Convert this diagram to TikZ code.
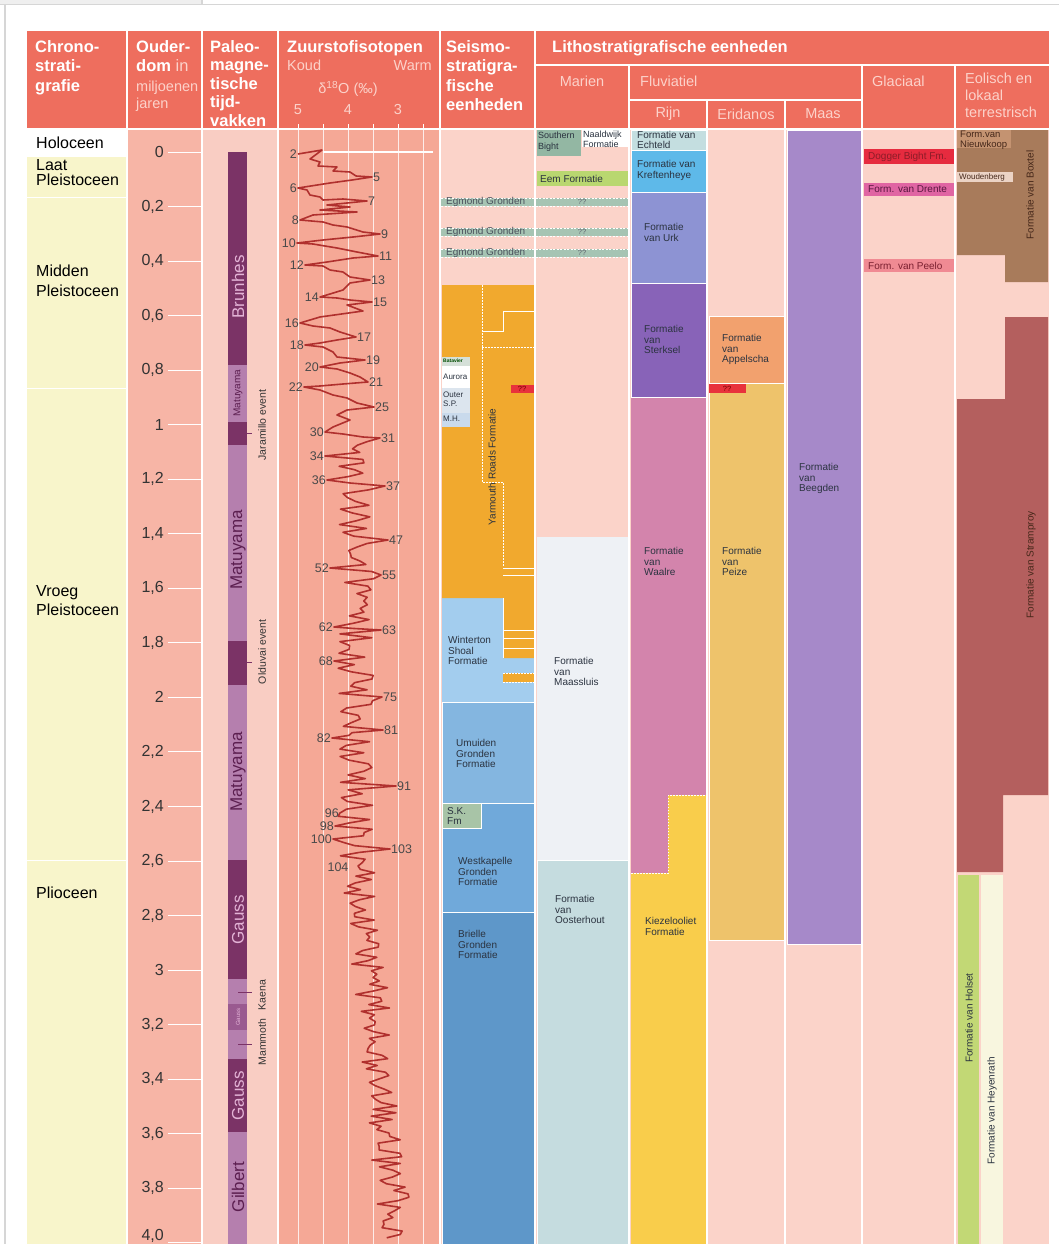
\documentclass[tikz,border=0pt]{standalone}
\usepackage{fontspec}
\setmainfont{Liberation Sans}
\definecolor{hdr}{HTML}{EE6E5E}
\definecolor{hdlt}{HTML}{FCD2CA}
\definecolor{chrono}{HTML}{F8F5CB}
\definecolor{oud}{HTML}{F7B5A6}
\definecolor{pal}{HTML}{F9CDC3}
\definecolor{iso}{HTML}{F5A896}
\definecolor{seis}{HTML}{FBD3C9}
\definecolor{magN}{HTML}{7B3366}
\definecolor{magM}{HTML}{9A5A90}
\definecolor{magR}{HTML}{B57FAE}
\definecolor{maglt}{HTML}{E3B3D6}
\definecolor{magdk}{HTML}{5C1F50}
\definecolor{curvec}{HTML}{B0302E}
\definecolor{mistxt}{HTML}{4A4A4A}
\definecolor{fmtxt}{HTML}{2B3340}
\definecolor{egm}{HTML}{A6C4B3}
\definecolor{batc}{HTML}{D5E0D8}
\definecolor{outc}{HTML}{DCE5EE}
\definecolor{mhc}{HTML}{C9DAEC}
\definecolor{yarm}{HTML}{F1A92E}
\definecolor{winter}{HTML}{A3CDEE}
\definecolor{umuid}{HTML}{84B6E0}
\definecolor{westk}{HTML}{70A9DA}
\definecolor{briel}{HTML}{5E97C9}
\definecolor{skfm}{HTML}{A8C4A7}
\definecolor{south}{HTML}{93B7A3}
\definecolor{eem}{HTML}{B9D770}
\definecolor{maassl}{HTML}{EEF1F5}
\definecolor{ooster}{HTML}{C5DCDF}
\definecolor{echt}{HTML}{C4DEE0}
\definecolor{kreft}{HTML}{5EB9E9}
\definecolor{urk}{HTML}{8D93D3}
\definecolor{sterk}{HTML}{8863B8}
\definecolor{waalre}{HTML}{D384AC}
\definecolor{kiezel}{HTML}{F9CD4B}
\definecolor{appel}{HTML}{F2A16E}
\definecolor{peize}{HTML}{EEC36B}
\definecolor{beeg}{HTML}{A689C9}
\definecolor{dogger}{HTML}{E62B3F}
\definecolor{drente}{HTML}{E065A3}
\definecolor{peelo}{HTML}{F08A93}
\definecolor{boxtel}{HTML}{A87B5B}
\definecolor{nieuwk}{HTML}{C49371}
\definecolor{woudc}{HTML}{EBD3C5}
\definecolor{stramp}{HTML}{B45F5E}
\definecolor{holset}{HTML}{C2D875}
\definecolor{heyen}{HTML}{F8F6DF}
\definecolor{redq}{HTML}{E8323C}
\definecolor{framec}{HTML}{D6D6D6}
\definecolor{dogtxt}{HTML}{8C1C28}
\definecolor{dretxt}{HTML}{5A1840}
\definecolor{peetxt}{HTML}{7A2030}
\definecolor{browntxt}{HTML}{46281A}
\begin{document}
\begin{tikzpicture}[x=1pt,y=-1pt,
 hb/.style={font=\bfseries\fontsize{16.5}{19.5}\selectfont, text=white, anchor=north west, inner sep=0pt, align=left},
 hl/.style={font=\fontsize{14.5}{17}\selectfont, text=hdlt, inner sep=0pt},
 ages/.style={font=\fontsize{16}{16}\selectfont, text=black!80, anchor=east, inner sep=0pt},
 chr/.style={font=\fontsize{16}{19.5}\selectfont, text=black, anchor=north west, inner sep=0pt, align=left},
 fm/.style={font=\fontsize{10}{10.7}\selectfont, text=fmtxt, anchor=north west, inner sep=0pt, align=left},
 fmr/.style={font=\fontsize{10}{10}\selectfont, text=fmtxt, inner sep=0pt, rotate=90},
 mis/.style={font=\fontsize{12.5}{12.5}\selectfont, text=mistxt, inner sep=1pt},
 misL/.style={mis, anchor=east},
 misR/.style={mis, anchor=west},
 magbig/.style={font=\fontsize{17}{17}\selectfont, rotate=90, inner sep=0pt},
 evt/.style={font=\fontsize{10.5}{10.5}\selectfont, rotate=90, text=black!80, inner sep=0pt},
 qq/.style={font=\fontsize{7.5}{7.5}\selectfont, inner sep=0pt},
 wl/.style={white, line width=1.2pt},
 blk/.style={draw=white, line width=0.8pt},
 curve/.style={draw=curvec, line width=1.6pt, line join=round}]
\useasboundingbox (0,0) rectangle (1059,1244);
\fill[white] (0,0) rectangle (1059,1244);
% frame
\fill[framec!40] (0,0) rectangle (202,4.5);
\draw[framec, line width=1.2pt] (0,4.5) -- (1059,4.5);
\draw[framec, line width=1.2pt] (202,0) -- (202,4.5);
\draw[framec, line width=1.2pt] (5,4.5) -- (5,1244);

% ---------- header ----------
\fill[hdr] (27,31) rectangle (1049,129);
\draw[wl] (127,31)--(127,129) (202,31)--(202,129) (278,31)--(278,129) (440,31)--(440,129) (535,31)--(535,129);
\draw[wl] (535,65)--(1049,65) (629,65)--(629,129) (862,65)--(862,129) (955,65)--(955,129);
\draw[wl] (629,100)--(862,100) (707,100)--(707,129) (785,100)--(785,129);
\foreach \x in {298,323,...,423} \draw[white, line width=0.9pt] (\x,124.5)--(\x,129);

\node[hb] (hChrono) at (35,40) {Chrono-\\strati-\\grafie};
\node[hb] (hOud) at (136,40) {Ouder-\\dom{\mdseries\color{hdlt}\ in}};
\node[hl, anchor=north west, align=left] (hOud2) at (136,81) {miljoenen\\jaren};
\node[hb, font=\bfseries\fontsize{16.5}{18.5}\selectfont] (hPal) at (210,40) {Paleo-\\magne-\\tische\\tijd-\\vakken};
\node[hb] (hIso) at (287,40) {Zuurstofisotopen};
\node[hl, anchor=north west] (hKoud) at (287,60) {Koud};
\node[hl, anchor=north east] (hWarm) at (432,60) {Warm};
\node[hl] (hDelta) at (348,89) {δ\textsuperscript{18}O (‰)};
\node[hl] (h5) at (298,110) {5};
\node[hl] (h4) at (348,110) {4};
\node[hl] (h3) at (398,110) {3};
\node[hb] (hSeis) at (446,40) {Seismo-\\stratigra-\\fische\\eenheden};
\node[hb] (hLitho) at (552,40) {Lithostratigrafische eenheden};
\node[hl] (hMar) at (582,81) {Marien};
\node[hl, anchor=west] (hFluv) at (640,81) {Fluviatiel};
\node[hl] (hRijn) at (668,114) {Rijn};
\node[hl] (hErid) at (746,114) {Eridanos};
\node[hl] (hMaas) at (823,114) {Maas};
\node[hl, anchor=west] (hGlac) at (872,81) {Glaciaal};
\node[hl, anchor=north west, align=left] (hEol) at (965,73) {Eolisch en\\lokaal\\terrestrisch};

% ---------- body backgrounds ----------
\fill[chrono] (27,129) rectangle (127,1244);
\fill[white] (27,129) rectangle (127,157);
\fill[oud] (127,129) rectangle (202,1244);
\fill[pal] (202,129) rectangle (278,1244);
\fill[iso] (278,129) rectangle (440,1244);
\fill[seis] (440,129) rectangle (1049,1244);
\draw[white, line width=1pt] (27,197)--(127,197) (27,388)--(127,388) (27,860)--(127,860);

% chrono labels
\node[chr] (cHol) at (36,137) {Holoceen};
\node[chr, font=\fontsize{16}{15}\selectfont] (cLaat) at (36,159) {Laat\\Pleistoceen};
\node[chr] (cMid) at (36,265) {Midden\\Pleistoceen};
\node[chr] (cVro) at (36,585) {Vroeg\\Pleistoceen};
\node[chr] (cPlio) at (36,887) {Plioceen};

% age axis
\foreach \i/\lab in {0/0,1/{0,2},2/{0,4},3/{0,6},4/{0,8},5/1,6/{1,2},7/{1,4},8/{1,6},9/{1,8},10/2,11/{2,2},12/{2,4},13/{2,6},14/{2,8},15/3,16/{3,2},17/{3,4},18/{3,6},19/{3,8}} {
  \draw[white, line width=1pt] (168,{152+54.54*\i}) -- (201,{152+54.54*\i});
  \node[ages] (age\i) at (164,{152+54.54*\i}) {\lab};
}
\draw[white, line width=1pt] (168,1242.8) -- (201,1242.8);
\node[ages] (age20) at (164,1236) {4,0};

% ---------- paleomagnetism ----------
\fill[magN] (228,152) rectangle (247,365);
\fill[magR] (228,365) rectangle (247,422);
\fill[magN] (228,422) rectangle (247,445);
\fill[magR] (228,445) rectangle (247,641);
\fill[magN] (228,641) rectangle (247,685);
\fill[magR] (228,685) rectangle (247,860);
\fill[magN] (228,860) rectangle (247,979);
\fill[magR] (228,979) rectangle (247,1004);
\fill[magM] (228,1004) rectangle (247,1030);
\fill[magR] (228,1030) rectangle (247,1059);
\fill[magN] (228,1059) rectangle (247,1132);
\fill[magR] (228,1132) rectangle (247,1244);
\draw[magN, line width=0.8pt] (238,433)--(252,433) (238,662)--(252,662) (238,992)--(252,992) (238,1044)--(252,1044);
\node[magbig, text=maglt] (pBrun) at (238,287) {Brunhes};
\node[magbig, text=magdk, font=\fontsize{10}{10}\selectfont] (pMat1) at (238,393) {Matuyama};
\node[magbig, text=magdk] (pMat2) at (238,550) {Matuyama};
\node[magbig, text=magdk] (pMat3) at (238,772) {Matuyama};
\node[magbig, text=maglt] (pGau1) at (238,920) {Gauss};
\node[magbig, text=maglt, font=\fontsize{6}{6}\selectfont] (pGau2) at (238,1017) {Gauss};
\node[magbig, text=maglt] (pGau3) at (238,1096) {Gauss};
\node[magbig, text=magdk] (pGil) at (238,1187) {Gilbert};
\node[evt] (eJar) at (262,425) {Jaramillo event};
\node[evt] (eOld) at (262,652) {Olduvai event};
\node[evt] (eKae) at (262,995) {Kaena};
\node[evt] (eMam) at (262,1042) {Mammoth};

% ---------- isotope grid ----------
\foreach \x in {298,323,...,423} \draw[white, opacity=0.8, line width=0.9pt] (\x,129)--(\x,1244);
\draw[white, line width=1.2pt] (323,152)--(433,152);

% ---------- seismo column ----------
\fill[winter] (442,598) rectangle (534,702);
\fill[yarm] (442,285) -- (534,285) -- (534,658) -- (503,658) -- (503,598) -- (442,598) -- cycle;
\fill[yarm] (503,673) rectangle (534,682);
\draw[white, line width=0.9pt, dash pattern=on 1.5pt off 1.5pt] (482,285)--(482,482)--(503,482)--(503,567) (482,347)--(534,347) (503,673)--(534,673) (503,682)--(534,682);
\draw[white, line width=1pt] (482,331)--(503,331)--(503,311)--(534,311);
\draw[white, line width=1pt] (503,568)--(534,568) (503,575)--(534,575) (503,630)--(534,630) (503,638)--(534,638) (503,648)--(534,648) (503,598)--(503,658);
\fill[batc] (442,357) rectangle (470,366);
\fill[white] (442,366) rectangle (470,388);
\fill[outc] (442,388) rectangle (470,413);
\fill[mhc] (442,413) rectangle (470,427);
\node[fm, font=\bfseries\fontsize{5}{5}\selectfont, text=green!30!black] (sBat) at (443,359) {Batavier};
\node[fm, font=\fontsize{8}{9}\selectfont] (sAur) at (443,374) {Aurora};
\node[fm, font=\fontsize{8}{8.5}\selectfont] (sOut) at (443,392) {Outer\\S.P.};
\node[fm, font=\fontsize{8}{8.5}\selectfont] (sMH) at (443,416) {M.H.};
\fill[redq] (511,385) rectangle (534,393);
\node[qq, text=red!45!black] (qY) at (522,389) {??};
\node[fmr] (sYar) at (492,467) {Yarmouth Roads Formatie};
\node[fm] (sWin) at (448,636) {Winterton\\Shoal\\Formatie};
\fill[umuid, blk] (442,702) rectangle (534,803);
\node[fm] (sUmu) at (456,739) {Umuiden\\Gronden\\Formatie};
\fill[westk, blk] (442,803) rectangle (534,912);
\fill[skfm, blk] (442,803) rectangle (481,828);
\node[fm] (sSK) at (447,807) {S.K.\\Fm};
\node[fm] (sWes) at (458,857) {Westkapelle\\Gronden\\Formatie};
\fill[briel, blk] (442,912) rectangle (534,1246);
\node[fm] (sBri) at (458,930) {Brielle\\Gronden\\Formatie};

% Egmond Gronden bands
\foreach \y/\nm in {202/egA,232/egB,253/egC} {
  \fill[egm] (441,{\y-4}) rectangle (628,{\y+4});
  \draw[white, line width=0.8pt, dash pattern=on 2pt off 1.5pt] (441,{\y-4}) -- (628,{\y-4}) (441,{\y+4}) -- (628,{\y+4});
  \node[fm, anchor=west, text=fmtxt!85] (\nm) at (446,\y) {Egmond Gronden};
  \node[qq, text=fmtxt!75] (q\nm) at (582,\y) {??};
}

% ---------- marien ----------
\fill[south] (537,130) rectangle (581,156);
\fill[white] (582,130) rectangle (628,147);
\node[fm, font=\fontsize{9}{11}\selectfont] (mSou) at (538,131.5) {Southern\\Bight};
\node[fm, font=\fontsize{9}{10}\selectfont] (mNaa) at (583,130.5) {Naaldwijk\\Formatie};
\fill[eem] (537,171) rectangle (628,186);
\node[fm, anchor=west] (mEem) at (540,178.5) {Eem Formatie};
\fill[maassl] (537,537) rectangle (628,860);
\node[fm] (mMaa) at (554,657) {Formatie\\van\\Maassluis};
\fill[ooster, blk] (537,860) rectangle (628,1246);
\node[fm] (mOos) at (555,895) {Formatie\\van\\Oosterhout};

% ---------- Rijn ----------
\fill[echt, blk] (631,130) rectangle (706,150);
\node[fm, font=\fontsize{10}{10.3}\selectfont] (rEch) at (637,131) {Formatie van\\Echteld};
\fill[kreft, blk] (631,150) rectangle (706,192);
\node[fm] (rKre) at (637,160) {Formatie van\\Kreftenheye};
\fill[urk, blk] (631,192) rectangle (706,283);
\node[fm] (rUrk) at (644,223) {Formatie\\van Urk};
\fill[sterk, blk] (631,283) rectangle (706,397);
\node[fm] (rSte) at (644,325) {Formatie\\van\\Sterksel};
\fill[waalre] (631,397) -- (706,397) -- (706,795) -- (668,795) -- (668,873) -- (631,873) -- cycle;
\fill[kiezel] (668,795) -- (706,795) -- (706,1246) -- (631,1246) -- (631,873) -- (668,873) -- cycle;
\draw[white, line width=0.9pt, dash pattern=on 1.5pt off 1.5pt] (631,873)--(668,873)--(668,795)--(706,795);
\draw[white, line width=0.8pt] (631,397)--(706,397);
\node[fm] (rWaa) at (644,547) {Formatie\\van\\Waalre};
\node[fm] (rKie) at (645,917) {Kiezelooliet\\Formatie};

% ---------- Eridanos ----------
\fill[appel, blk] (709,316) rectangle (784,383);
\node[fm] (eApp) at (722,334) {Formatie\\van\\Appelscha};
\fill[peize, blk] (709,383) rectangle (784,940);
\fill[redq] (709,384) rectangle (746,393);
\node[qq, text=red!45!black] (qE) at (727,388.5) {??};
\node[fm] (ePei) at (722,547) {Formatie\\van\\Peize};

% ---------- Maas ----------
\fill[beeg, blk] (787,130) rectangle (861,944);
\node[fm] (aBee) at (799,463) {Formatie\\van\\Beegden};

% ---------- Glaciaal ----------
\fill[dogger] (864,149) rectangle (954,164);
\node[fm, anchor=west, text=dogtxt] (gDog) at (868,156.5) {Dogger Bight Fm.};
\fill[drente] (864,183) rectangle (954,196);
\node[fm, anchor=west, text=dretxt] (gDre) at (868,189.5) {Form. van Drente};
\fill[peelo] (864,259) rectangle (954,272);
\node[fm, anchor=west, text=peetxt] (gPee) at (868,265.5) {Form. van Peelo};

% ---------- Eolisch ----------
\fill[boxtel] (957,130) -- (1048,130) -- (1048,282) -- (1005,282) -- (1005,255) -- (957,255) -- cycle;
\fill[nieuwk] (957,130) rectangle (1011,148);
\node[fm, font=\fontsize{9.5}{9.8}\selectfont, text=browntxt] (oNie) at (960,130.5) {Form.van\\Nieuwkoop};
\fill[woudc] (957,172) rectangle (1013,182);
\node[fm, anchor=west, font=\fontsize{8}{8}\selectfont, text=browntxt] (oWou) at (959,177) {Woudenberg};
\node[fmr, text=browntxt] (oBox) at (1030,195) {Formatie van Boxtel};
\fill[stramp] (1005,317) -- (1048,317) -- (1048,795) -- (1003,795) -- (1003,872) -- (957,872) -- (957,399) -- (1005,399) -- cycle;
\node[fmr, text=browntxt] (oStr) at (1031,565) {Formatie van Stramproy};
\fill[holset] (958,875) rectangle (979,1246);
\fill[heyen] (981,875) rectangle (1003,1246);
\node[fmr] (oHol) at (969,1018) {Formatie van Holset};
\node[fmr] (oHey) at (992,1111) {Formatie van Heyenrath};

% ---------- column separators ----------
\draw[white, line width=1.2pt] (27,129)--(1049,129);
\foreach \x in {127,202,278,440,535,629,707,785,862,955}
  \draw[white, line width=1.2pt] (\x,129)--(\x,1244);

% ---------- oxygen isotope curve ----------
\pgfmathsetseed{4242}
\draw[curve] (298,154) -- (322,150) -- (310,159) -- (320,162) -- (318,166) -- (337,167) -- (333,171) -- (350,172) -- (356,176) -- (372,177)
 -- (352,180) -- (330,183) -- (298,188) -- (307,190) -- (310,195) -- (320,197) -- (323,200) -- (343,199) -- (367,201) -- (327,205)
 -- (350,207) -- (320,210) -- (357,212) -- (313,215) -- (300,220) -- (323,222) -- (333,225) -- (347,227) -- (363,232) -- (380,234)
 -- (353,237) -- (323,240) -- (297,243) -- (313,244) -- (337,248) -- (357,252) -- (378,256) -- (353,258) -- (327,262) -- (305,265)
 -- (323,266) -- (330,270) -- (343,272) -- (350,277) -- (370,280) -- (350,283) -- (343,290) -- (330,294) -- (320,297) -- (337,298)
 -- (350,300) -- (372,302) -- (347,305) -- (363,311) -- (320,317) -- (300,323) -- (313,326) -- (330,328) -- (340,332) -- (356,337)
 -- (337,340) -- (320,343) -- (305,345) -- (323,347) -- (333,352) -- (337,357) -- (365,360) -- (340,363) -- (320,367) -- (337,369)
 -- (350,373) -- (360,377) -- (368,382) -- (343,384) -- (320,386) -- (304,387) -- (320,390) -- (333,395) -- (347,398) -- (357,403)
 -- (374,407) -- (347,410) -- (337,415) -- (350,420) -- (333,427) -- (325,432) -- (343,434) -- (363,437) -- (380,438)
 \foreach \xb/\yb [remember=\yb as \ya (initially 438), evaluate=\yb as \nn using {int(max(1,(\yb-\ya)/4))}] in
   {325/456,327/480,385/486,388/540,330/568,381/575,334/627,381/630,334/661,382/697,383/730,332/738,396/786,340/813,335/826,333/839,390/849,358/866}
   { \foreach \k in {1,...,\nn} { -- ({356+18*rand},{\ya+(\yb-\ya)*\k/(\nn+1)}) } -- (\xb,\yb) }
 \foreach \k in {1,...,110} { -- ({358+0.35*\k+17*rand},{866+3.38*\k}) };

% MIS labels
\foreach \lab/\x/\y in {2/298/154,6/298/188,8/300/220,10/297/243,12/305/265,14/320/297,16/300/323,18/305/345,20/320/367,22/304/387,30/325/432,34/325/456,36/327/480,52/330/568,62/334/627,68/334/661,82/332/738,96/340/813,98/335/826,100/333/839}
  \node[misL] (mis\lab) at (\x,\y) {\lab};
\foreach \lab/\x/\y in {5/372/177,7/367/201,9/380/234,11/378/256,13/370/280,15/372/302,17/356/337,19/365/360,21/368/382,25/374/407,31/380/438,37/385/486,47/388/540,55/381/575,63/381/630,75/382/697,81/383/730,91/396/786,103/390/849}
  \node[misR] (mis\lab) at (\x,\y) {\lab};
\node[mis] (mis104) at (338,867) {104};
\end{tikzpicture}
\end{document}
